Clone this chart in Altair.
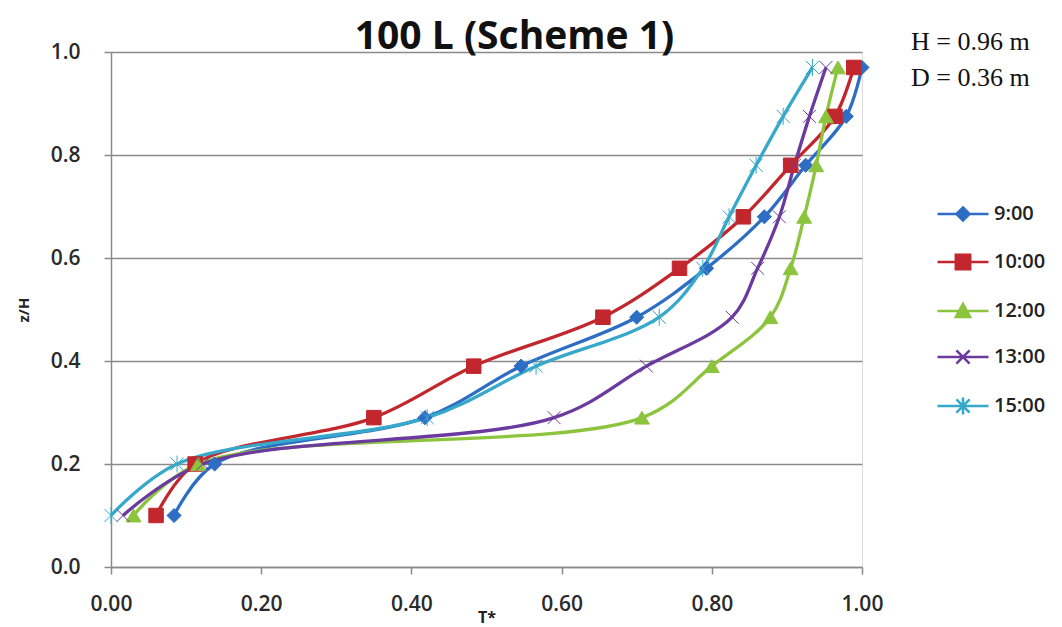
import altair as alt
import pandas as pd

# Dimensionless tank temperature profiles, one series per time of day
series_names = ["9:00", "10:00", "12:00", "13:00", "15:00"]
z_over_h = [0.10, 0.20, 0.29, 0.39, 0.485, 0.58, 0.68, 0.78, 0.875, 0.97]

t_0900 = [0.084, 0.138, 0.418, 0.546, 0.700, 0.793, 0.870, 0.925, 0.979, 1.000]
t_1000 = [0.060, 0.112, 0.350, 0.483, 0.655, 0.757, 0.842, 0.905, 0.964, 0.989]
t_1200 = [0.030, 0.116, 0.707, 0.800, 0.878, 0.905, 0.923, 0.939, 0.952, 0.968]
t_1300 = [0.016, 0.122, 0.590, 0.713, 0.827, 0.861, 0.890, 0.910, 0.930, 0.952]
t_1500 = [0.000, 0.088, 0.421, 0.566, 0.730, 0.788, 0.823, 0.859, 0.895, 0.934]

x_ticks = [0.0, 0.2, 0.4, 0.6, 0.8, 1.0]
y_ticks = [0.0, 0.2, 0.4, 0.6, 0.8, 1.0]

series_colors = ["#2D6EC4", "#C1272D", "#8DC43E", "#6A3A9E", "#36A8CA"]

X_PATH = "M-0.85,-0.85L0.85,0.85M-0.85,0.85L0.85,-0.85"
STAR_PATH = "M-0.85,-0.85L0.85,0.85M-0.85,0.85L0.85,-0.85M0,-1.1V1.1"
marker_shapes = ["diamond", "square", "triangle-up", X_PATH, STAR_PATH]
marker_sizes = [200, 240, 220, 200, 200]
marker_strokes = [1, 1, 1, 2, 2]

# Legend symbols: a short line segment with the series marker on it
SEG = "M-4.25,0H4.25"
legend_paths = [
    SEG + "M0,-1.1L1.1,0L0,1.1L-1.1,0Z",
    SEG + "M-1.2,-1.2H1.2V1.2H-1.2Z",
    SEG + "M0,-1.2L1.2,1L-1.2,1Z",
    SEG + "M-1.1,-1.1L1.1,1.1M-1.1,1.1L1.1,-1.1",
    SEG + "M-1.1,-1.1L1.1,1.1M-1.1,1.1L1.1,-1.1M0,-1.4V1.4",
]

rows = []
for name, temps in zip(series_names, [t_0900, t_1000, t_1200, t_1300, t_1500]):
    for z, t in zip(z_over_h, temps):
        rows.append({"series": name, "T": t, "z": z})
df = pd.DataFrame(rows)

FONT = "Open Sans"
GRID = "#8a8a8a"

x_enc = alt.X(
    "T:Q",
    scale=alt.Scale(domain=[0, 1], nice=False),
    axis=alt.Axis(
        values=x_ticks, format=".2f", grid=False,
        domainColor=GRID, domainWidth=1.5, tickColor=GRID, tickWidth=1.5, tickSize=7,
        labelFont=FONT, labelFontSize=21, labelFontWeight=600, labelColor="#2a2a2a",
        labelPadding=19, labelFlush=False, labelOverlap=False,
        title="T*", titleFont=FONT, titleFontSize=16, titleFontWeight="bold",
        titleColor="#222", titlePadding=-5,
    ),
)
y_enc = alt.Y(
    "z:Q",
    scale=alt.Scale(domain=[0, 1], nice=False),
    axis=alt.Axis(
        values=y_ticks, format=".1f", grid=True, gridColor=GRID, gridWidth=1.5,
        domainColor=GRID, domainWidth=1.5, tickColor=GRID, tickWidth=1.5, tickSize=7,
        labelFont=FONT, labelFontSize=21, labelFontWeight=600, labelColor="#2a2a2a",
        labelPadding=24, labelFlush=False, labelOverlap=False,
        title="z/H", titleFont=FONT, titleFontSize=15, titleFontWeight="bold",
        titleColor="#222", titlePadding=19,
    ),
)

color_scale = alt.Scale(domain=series_names, range=series_colors)

lines = alt.Chart(df).mark_line(interpolate="catmull-rom", strokeWidth=3.3).encode(
    x=x_enc,
    y=y_enc,
    color=alt.Color("series:N", scale=color_scale, legend=None),
    order=alt.Order("z:Q"),
)

points = alt.Chart(df).mark_point(opacity=1).encode(
    x="T:Q",
    y="z:Q",
    fill=alt.Fill("series:N", scale=color_scale, legend=None),
    stroke=alt.Stroke("series:N", scale=color_scale, legend=None),
    shape=alt.Shape("series:N", scale=alt.Scale(domain=series_names, range=marker_shapes), legend=None),
    size=alt.Size("series:N", scale=alt.Scale(domain=series_names, range=marker_sizes), legend=None),
    strokeWidth=alt.StrokeWidth("series:N", scale=alt.Scale(domain=series_names, range=marker_strokes), legend=None),
)

legend = alt.Legend(
    title=None, orient="none", legendX=842, legendY=152, padding=0,
    symbolSize=144, symbolStrokeWidth=2.5, labelOffset=21, rowPadding=23,
    labelFont=FONT, labelFontSize=20, labelFontWeight=600, labelColor="#222",
)

# Legend-only layer: no rows survive the filter, the scales carry the entries
key = alt.Chart(df).transform_filter("false").mark_point(opacity=1).encode(
    x="T:Q",
    y="z:Q",
    fill=alt.Fill("series:N", scale=color_scale, legend=legend),
    stroke=alt.Stroke("series:N", scale=color_scale, legend=legend),
    shape=alt.Shape("series:N", scale=alt.Scale(domain=series_names, range=legend_paths), legend=legend),
)

notes = alt.Chart(pd.DataFrame({"note": ["H = 0.96 m\nD = 0.36 m"]})).mark_text(
    align="left", baseline="top", font="Liberation Serif", fontSize=26,
    lineBreak="\n", lineHeight=36, color="#111",
).encode(text="note:N", x=alt.value(800), y=alt.value(-23))

chart = alt.layer(lines, points, key, notes).resolve_scale(
    fill="independent", stroke="independent", shape="independent"
).properties(
    width=751,
    height=515,
    padding={"left": 111, "top": 52, "right": 200, "bottom": 60},
    autosize=alt.AutoSizeParams(type="none"),
    title=alt.TitleParams(
        text="100 L (Scheme 1)", font=FONT, fontSize=39, fontWeight="bold",
        color="#111", anchor="middle", dx=28, dy=63, offset=4, baseline="alphabetic",
    ),
).configure_view(stroke=None).configure(background="white")

chart.save("out.html", embed_options={"renderer": "svg", "actions": False})
